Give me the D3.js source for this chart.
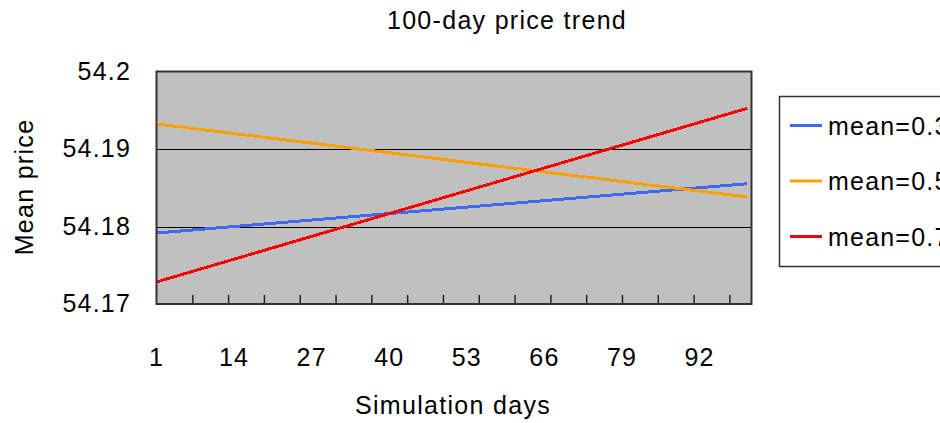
<!DOCTYPE html>
<html>
<head>
<meta charset="utf-8">
<script src="https://cdn.jsdelivr.net/npm/d3@7"></script>
<style>
  html, body { margin: 0; padding: 0; background: #fff; overflow: hidden; }
  text { font-family: "Liberation Sans", Arial, sans-serif; fill: #000; }
</style>
</head>
<body>
<svg id="chart" width="940" height="423"></svg>
<script>
// Simulated mean price, start and end of the 100-day window for each mean setting
const seriesNames = ["mean=0.3", "mean=0.5", "mean=0.7"];
const seriesColors = ["#3f6af0", "#ffa000", "#ff0000"];
const seriesDays = [1, 100];
const mean03 = [54.17916, 54.18552];
const mean05 = [54.19323, 54.18381];
const mean07 = [54.17284, 54.19525];
const xTickLabels = [1, 14, 27, 40, 53, 66, 79, 92];
const xTickMarks = [7, 13, 19, 25, 31, 37, 43, 49, 55, 61, 67, 73, 79, 85, 91, 97];
const yTicks = [54.17, 54.18, 54.19, 54.2];

const svg = d3.select("#chart");
const plot = { left: 156.5, top: 71.5, right: 751.5, bottom: 304 };

const x = d3.scaleLinear().domain([1, 100.7]).range([plot.left, plot.right]);
const y = d3.scaleLinear().domain([54.17, 54.2]).range([plot.bottom, plot.top]);

// plot background
svg.append("rect")
  .attr("x", plot.left).attr("y", plot.top)
  .attr("width", plot.right - plot.left).attr("height", plot.bottom - plot.top)
  .attr("fill", "#c0c0c0");

// horizontal gridlines
svg.append("g")
  .selectAll("line")
  .data(yTicks.filter(v => v > 54.17 && v < 54.2))
  .join("line")
  .attr("x1", plot.left).attr("x2", plot.right)
  .attr("y1", d => Math.round(y(d)) + 0.5).attr("y2", d => Math.round(y(d)) + 0.5)
  .attr("stroke", "#000").attr("stroke-width", 1);

// inner tick marks on the bottom axis
const xAxis = d3.axisBottom(x).tickValues(xTickMarks).tickSizeInner(-9).tickSizeOuter(0).tickFormat("");
const gx = svg.append("g").attr("transform", `translate(0,${plot.bottom})`).call(xAxis);
gx.select(".domain").remove();
gx.selectAll(".tick line").attr("stroke", "#222").attr("stroke-width", 1.5);

// x tick labels
svg.append("g")
  .selectAll("text")
  .data(xTickLabels)
  .join("text")
  .attr("x", d => x(d))
  .attr("y", 366)
  .attr("text-anchor", "middle")
  .attr("font-size", 25)
  .attr("letter-spacing", 1.2)
  .text(d => d);

// y tick labels
svg.append("g")
  .selectAll("text")
  .data(yTicks)
  .join("text")
  .attr("x", 131)
  .attr("y", d => y(d) + 8)
  .attr("text-anchor", "end")
  .attr("font-size", 25)
  .attr("letter-spacing", 1.2)
  .text(d => d3.format("")(d));

// series lines
const seriesValues = [mean03, mean05, mean07];
const line = d3.line().x(d => x(d[0])).y(d => y(d[1]));
svg.append("g")
  .selectAll("path")
  .data(seriesValues)
  .join("path")
  .attr("d", vals => line(seriesDays.map((day, i) => [day, vals[i]])))
  .attr("fill", "none")
  .attr("stroke", (d, i) => seriesColors[i])
  .attr("stroke-width", 3)
  .attr("shape-rendering", "crispEdges");

// plot frame
svg.append("rect")
  .attr("x", plot.left).attr("y", plot.top)
  .attr("width", plot.right - plot.left).attr("height", plot.bottom - plot.top)
  .attr("fill", "none").attr("stroke", "#333").attr("stroke-width", 2);

// title and axis titles
svg.append("text")
  .attr("x", 507).attr("y", 29)
  .attr("text-anchor", "middle")
  .attr("font-size", 25).attr("letter-spacing", 1.3)
  .text("100-day price trend");

svg.append("text")
  .attr("x", 453).attr("y", 414)
  .attr("text-anchor", "middle")
  .attr("font-size", 25).attr("letter-spacing", 1.3)
  .text("Simulation days");

svg.append("text")
  .attr("transform", "translate(33,187) rotate(-90)")
  .attr("text-anchor", "middle")
  .attr("font-size", 25).attr("letter-spacing", 1.3)
  .text("Mean price");

// legend
const legend = svg.append("g");
legend.append("rect")
  .attr("x", 779.5).attr("y", 96.5)
  .attr("width", 200).attr("height", 170)
  .attr("fill", "#fff").attr("stroke", "#333").attr("stroke-width", 1.5);

const items = legend.selectAll("g.item")
  .data(seriesNames)
  .join("g")
  .attr("class", "item")
  .attr("transform", (d, i) => `translate(0,${125.5 + i * 55.5})`);
items.append("line")
  .attr("x1", 790).attr("x2", 822)
  .attr("y1", 0).attr("y2", 0)
  .attr("stroke", (d, i) => seriesColors[i])
  .attr("stroke-width", 3);
items.append("text")
  .attr("x", 828).attr("y", 9)
  .attr("font-size", 25).attr("letter-spacing", 1.2)
  .text(d => d);
</script>
</body>
</html>
